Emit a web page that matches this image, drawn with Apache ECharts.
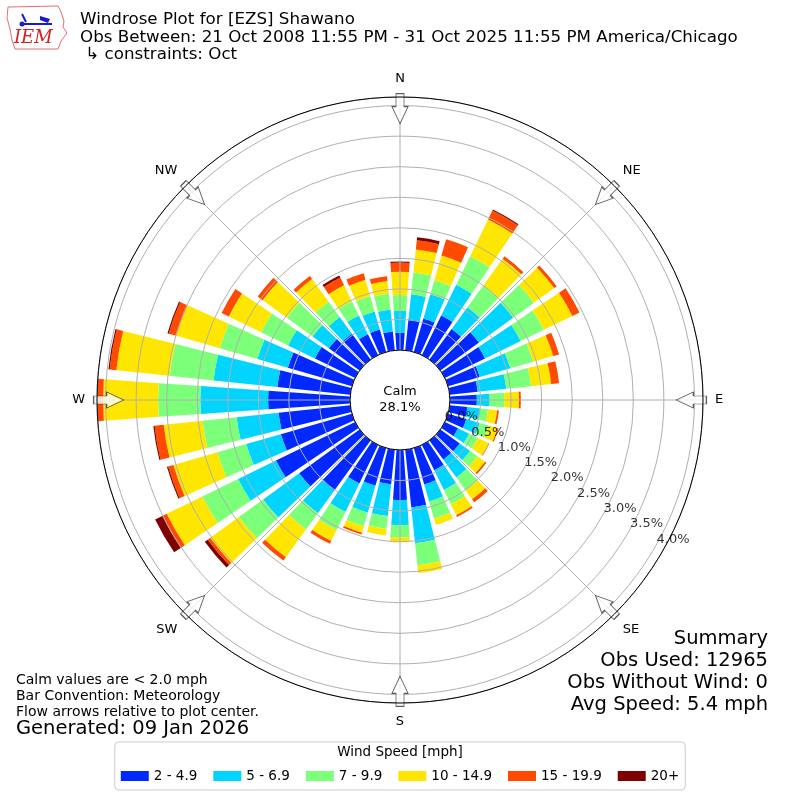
<!DOCTYPE html>
<html lang="en">
<head>
<meta charset="UTF-8">
<title>Windrose Plot for [EZS] Shawano</title>
<script src="https://cdn.jsdelivr.net/npm/echarts@6/dist/echarts.min.js"></script>
<style>
  html, body { margin: 0; padding: 0; background: #fff; }
  #chart { width: 800px; height: 800px; }
</style>
</head>
<body>
<div id="chart"></div>
<script>
  // wind direction bins (deg, where the wind blows from), 10 deg wide
  const directions = [0, 10, 20, 30, 40, 50, 60, 70, 80, 90, 100, 110, 120, 130, 140, 150, 160, 170,
    180, 190, 200, 210, 220, 230, 240, 250, 260, 270, 280, 290, 300, 310, 320, 330, 340, 350];
  const speedBins = ['2 - 4.9', '5 - 6.9', '7 - 9.9', '10 - 14.9', '15 - 19.9', '20+'];

  // percent of all obs, one value per direction
  const bin2to5 = [0.28, 0.51, 0.57, 0.72, 0.62, 0.78, 0.73, 0.54, 0.46, 0.44, 0.29, 0.31, 0.24, 0.39, 0.39, 0.46, 0.62, 0.95,
    0.82, 0.57, 0.64, 0.70, 1.01, 1.22, 1.44, 1.21, 1.18, 1.34, 1.20, 1.09, 0.73, 0.62, 0.52, 0.38, 0.38, 0.31];
  const bin5to7 = [0.36, 0.41, 0.41, 0.56, 0.44, 0.69, 0.65, 0.52, 0.47, 0.21, 0.21, 0.23, 0.20, 0.21, 0.36, 0.36, 0.29, 0.59,
    0.41, 0.52, 0.46, 0.52, 0.46, 0.73, 0.69, 0.59, 0.69, 1.11, 1.05, 0.52, 0.49, 0.33, 0.34, 0.34, 0.31, 0.36];
  const bin7to10 = [0.26, 0.36, 0.24, 0.52, 0.44, 0.42, 0.42, 0.39, 0.41, 0.24, 0.13, 0.15, 0.16, 0.15, 0.26, 0.26, 0.29, 0.36,
    0.20, 0.21, 0.23, 0.33, 0.33, 0.49, 0.65, 0.49, 0.56, 0.69, 0.72, 0.64, 0.49, 0.52, 0.31, 0.26, 0.26, 0.26];
  const bin10to15 = [0.38, 0.38, 0.42, 0.67, 0.54, 0.41, 0.52, 0.34, 0.33, 0.24, 0.15, 0.15, 0.20, 0.15, 0.18, 0.20, 0.11, 0.13,
    0.08, 0.11, 0.11, 0.20, 0.56, 0.58, 0.65, 0.75, 0.64, 0.90, 0.88, 0.74, 0.59, 0.49, 0.46, 0.29, 0.28, 0.21];
  const bin15to20 = [0.15, 0.15, 0.28, 0.16, 0.05, 0.05, 0.13, 0.10, 0.13, 0.03, 0.03, 0.02, 0.01, 0.03, 0.06, 0.03, 0, 0,
    0, 0, 0.03, 0.05, 0.07, 0.05, 0.08, 0.09, 0.15, 0.10, 0.11, 0.13, 0.13, 0.10, 0.06, 0.14, 0.11, 0.08];
  const bin20plus = [0.02, 0.05, 0, 0.02, 0, 0, 0, 0, 0, 0, 0, 0, 0, 0, 0, 0, 0, 0,
    0, 0, 0, 0, 0, 0.06, 0.13, 0.02, 0.02, 0, 0.02, 0.02, 0, 0, 0, 0.04, 0, 0];

  const calmPct = 28.1;
  const rTicks = [0, 0.5, 1.0, 1.5, 2.0, 2.5, 3.0, 3.5, 4.0];
  const rTickLabels = ['0.0%', '0.5%', '1.0%', '1.5%', '2.0%', '2.5%', '3.0%', '3.5%', '4.0%'];
  const compassAngles = [0, 45, 90, 135, 180, 225, 270, 315];
  const compassNames = ['N', 'NE', 'E', 'SE', 'S', 'SW', 'W', 'NW'];

  const FONT = 'DejaVu Sans';
  const colors = ['#0028ff', '#00d4ff', '#7cff79', '#ffe600', '#ff4a00', '#800000'];
  const bins = [bin2to5, bin5to7, bin7to10, bin10to15, bin15to20, bin20plus];

  // outer ring = longest bar
  let rMax = 0;
  for (let i = 0; i < directions.length; i++) {
    let s = 0;
    bins.forEach(b => { s += b[i]; });
    if (s > rMax) rMax = s;
  }

  let myChart = echarts.init(document.getElementById('chart'), null, {renderer: 'canvas'});

  let barSeries = bins.map((b, k) => ({
    name: speedBins[k],
    type: 'bar',
    coordinateSystem: 'polar',
    polarIndex: 0,
    stack: 'wind',
    barCategoryGap: '20%',
    itemStyle: {color: colors[k]},
    data: b
  }));

  // hollow flow arrow pointing up, rotated per direction
  const arrowPath = 'path://M8,0 L16,17 L12,17 L12,30 L4,30 L4,17 L0,17 Z';

  let option = {
    animation: false,
    backgroundColor: '#fff',
    textStyle: {fontFamily: FONT},
    title: {
      text: 'Windrose Plot for [EZS] Shawano\nObs Between: 21 Oct 2008 11:55 PM - 31 Oct 2025 11:55 PM America/Chicago\n \u21b3 constraints: Oct',
      left: 80,
      top: 11,
      padding: 0,
      textStyle: {fontFamily: FONT, fontSize: 16.7, fontWeight: 'normal', color: '#000', lineHeight: 17.5}
    },
    legend: {
      data: speedBins,
      left: 'center',
      bottom: 10,
      icon: 'rect',
      itemWidth: 28,
      itemHeight: 10,
      itemGap: 16,
      padding: [27, 6, 7, 6],
      borderColor: '#cccccc',
      borderWidth: 1,
      borderRadius: 4,
      textStyle: {fontFamily: FONT, fontSize: 13.5, color: '#000'}
    },
    polar: [
      {center: ['50%', '50%'], radius: [50, 303]},
      {center: ['50%', '50%'], radius: [50, 303]},
      {center: ['50%', '50%'], radius: [0, 50]},
      {center: ['50%', '50%'], radius: [0, 303]}
    ],
    angleAxis: [
      {
        polarIndex: 0, type: 'category', data: directions.map(String),
        startAngle: 95, clockwise: true,
        axisLine: {show: false}, axisTick: {show: false}, axisLabel: {show: false}, splitLine: {show: false}
      },
      {
        polarIndex: 1, type: 'value', min: 0, max: 360, interval: 45,
        startAngle: 90, clockwise: true, z: 5,
        axisLine: {show: false}, axisTick: {show: false},
        axisLabel: {
          show: true, margin: 12, fontFamily: FONT, fontSize: 13, color: '#000',
          formatter: function (v) {
            let i = compassAngles.indexOf(v);
            return i >= 0 ? compassNames[i] : '';
          }
        },
        splitLine: {show: true, lineStyle: {color: '#b0b0b0', width: 1}}
      },
      {
        polarIndex: 2, type: 'value', min: 0, max: 360, z: 8,
        axisLine: {show: true, lineStyle: {color: '#000', width: 1}},
        axisTick: {show: false}, axisLabel: {show: false}, splitLine: {show: false}
      },
      {
        polarIndex: 3, type: 'value', min: 0, max: 360, z: 8,
        axisLine: {show: true, lineStyle: {color: '#000', width: 1}},
        axisTick: {show: false}, axisLabel: {show: false}, splitLine: {show: false}
      }
    ],
    radiusAxis: [
      {
        polarIndex: 0, type: 'value', min: 0, max: rMax,
        axisLine: {show: false}, axisTick: {show: false}, axisLabel: {show: false}, splitLine: {show: false}
      },
      {
        polarIndex: 1, type: 'value', min: 0, max: rMax, interval: 0.5, z: 5,
        axisLine: {show: false}, axisTick: {show: false}, axisLabel: {show: false},
        splitLine: {show: true, lineStyle: {color: '#b0b0b0', width: 1}}
      },
      {
        polarIndex: 2, type: 'value', min: 0, max: 1, show: false
      },
      {
        polarIndex: 3, type: 'value', min: 0, max: 1, show: false
      }
    ],
    series: barSeries.concat([
      {
        // radial tick labels along the 120 deg line
        type: 'scatter',
        coordinateSystem: 'polar',
        polarIndex: 1,
        z: 9,
        symbol: 'circle',
        symbolSize: 1,
        silent: true,
        itemStyle: {color: 'transparent'},
        label: {
          show: true, position: 'right', distance: 1, offset: [0, -8],
          fontFamily: FONT, fontSize: 13, color: '#000',
          formatter: p => rTickLabels[p.dataIndex]
        },
        data: rTicks.map(v => [v, 120])
      },
      {
        // flow arrows at the rim
        type: 'scatter',
        coordinateSystem: 'polar',
        polarIndex: 1,
        z: 7,
        silent: true,
        symbol: arrowPath,
        symbolSize: [16, 30],
        itemStyle: {color: '#fff', borderColor: '#333', borderWidth: 1},
        data: compassAngles.map(a => ({value: [rMax - 0.19, a], symbolRotate: -a - 180}))
      }
    ]),
    graphic: [
      {
        type: 'text', x: 400, y: 400, z: 10,
        style: {text: 'Calm\n' + calmPct.toFixed(1) + '%', align: 'center', verticalAlign: 'middle',
          font: '13px "DejaVu Sans"', fill: '#000', lineHeight: 16}
      },
      {
        type: 'text', x: 768, y: 628, z: 10,
        style: {text: 'Summary\nObs Used: 12965\nObs Without Wind: 0\nAvg Speed: 5.4 mph',
          align: 'right', verticalAlign: 'top', font: '19.5px "DejaVu Sans"', fill: '#000', lineHeight: 22}
      },
      {
        type: 'text', x: 16, y: 672, z: 10,
        style: {text: 'Calm values are < 2.0 mph\nBar Convention: Meteorology\nFlow arrows relative to plot center.',
          align: 'left', verticalAlign: 'top', font: '14px "DejaVu Sans"', fill: '#000', lineHeight: 16}
      },
      {
        type: 'text', x: 16, y: 719, z: 10,
        style: {text: 'Generated: 09 Jan 2026', align: 'left', verticalAlign: 'top',
          font: '19.5px "DejaVu Sans"', fill: '#000'}
      },
      {
        type: 'text', x: 400, y: 752, z: 10,
        style: {text: 'Wind Speed [mph]', align: 'center', verticalAlign: 'middle',
          font: '13.5px "DejaVu Sans"', fill: '#000'}
      },
      // IEM logo (rough)
      {
        type: 'polygon', z: 10,
        shape: {points: [[8, 7], [58, 6], [61, 12], [64, 21], [63, 27], [67, 33], [61, 41], [58, 49], [15, 49], [12, 40], [10, 29], [7, 18]]},
        style: {fill: '#fff', stroke: '#e07070', lineWidth: 1}
      },
      {
        type: 'line', z: 11, shape: {x1: 22, y1: 24, x2: 52, y2: 24},
        style: {stroke: '#1a1ad0', lineWidth: 2}
      },
      {
        type: 'line', z: 11, shape: {x1: 22, y1: 14, x2: 26, y2: 22},
        style: {stroke: '#1a1ad0', lineWidth: 2}
      },
      {
        type: 'polygon', z: 11, shape: {points: [[40, 16], [50, 19], [48, 23], [40, 20]]},
        style: {fill: '#1a1ad0'}
      },
      {
        type: 'circle', z: 11, shape: {cx: 22, cy: 24, r: 2.5},
        style: {fill: '#1a1ad0'}
      },
      {
        type: 'text', x: 14, y: 29, z: 11,
        style: {text: 'IEM', font: 'italic 18px "DejaVu Serif"', fill: '#d42020', align: 'left', verticalAlign: 'top'}
      }
    ]
  };
  myChart.setOption(option);
  window.addEventListener('resize', function () {
    myChart.resize();
  });
</script>
</body>
</html>
